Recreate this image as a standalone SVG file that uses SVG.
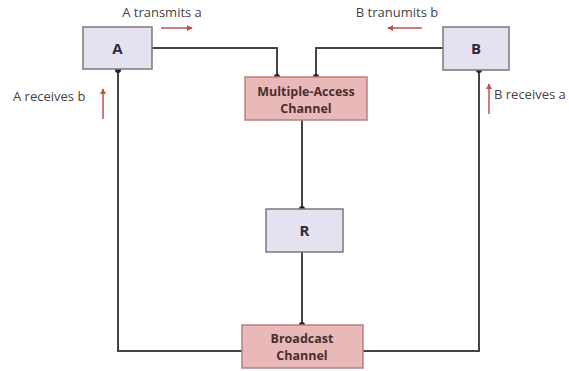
<svg xmlns="http://www.w3.org/2000/svg" width="569" height="371" viewBox="0 0 569 371">
<style>
.node{fill:#e4e2f0;stroke:#7a7a7a;stroke-width:1.5}
.ch{fill:#e9b8b8;stroke:#b88080;stroke-width:1.5}
.lbl{font-family:"Open Sans","Liberation Sans",sans-serif;font-weight:bold;fill:#2e2a3a;text-anchor:middle}
.chl{font-family:"Open Sans","Liberation Sans",sans-serif;font-weight:bold;fill:#4a2e2e;text-anchor:middle;font-size:12.5px}
.note{font-family:"Open Sans","Liberation Sans",sans-serif;font-size:13px;fill:#444}
.conn{fill:none;stroke:#444;stroke-width:2}
.red{fill:none;stroke:#c0504d;stroke-width:1.5}
</style>
<defs>
<marker id="dot" viewBox="0 0 6 6" refX="3" refY="3" markerWidth="3" markerHeight="3" markerUnits="strokeWidth"><circle cx="3" cy="3" r="3" fill="#222"/></marker>
<marker id="rh" viewBox="0 0 8 8" refX="7" refY="4" markerWidth="4" markerHeight="4" markerUnits="strokeWidth" orient="auto"><path d="M0,0 L8,4 L0,8 z" fill="#c0504d"/></marker>
</defs>
<g id="connectors">
<path class="conn" d="M152,48 H277 V77" marker-end="url(#dot)"/>
<path class="conn" d="M443,48 H316 V77" marker-end="url(#dot)"/>
<path class="conn" d="M302,120 V209" marker-end="url(#dot)"/>
<path class="conn" d="M302,252 V325" marker-end="url(#dot)"/>
<path class="conn" d="M242,351 H118 V70" marker-end="url(#dot)"/>
<path class="conn" d="M363,351 H479 V70" marker-end="url(#dot)"/>
</g>
<g id="annotations">
<text class="note" x="162" y="17" text-anchor="middle">A transmits a</text>
<path class="red" d="M161,28 H192" marker-end="url(#rh)"/>
<text class="note" x="13" y="101">A receives b</text>
<path class="red" d="M103,119 V89" marker-end="url(#rh)"/>
<text class="note" x="397" y="17" text-anchor="middle">B tranumits b</text>
<path class="red" d="M422,28 H388" marker-end="url(#rh)"/>
<text class="note" x="494" y="99">B receives a</text>
<path class="red" d="M489,114 V84" marker-end="url(#rh)"/>
</g>
<g id="A"><rect class="node" x="83" y="27" width="69" height="42"/><text class="lbl" x="117.5" y="54" font-size="15">A</text></g>
<g id="B"><rect class="node" x="443" y="27" width="66" height="43"/><text class="lbl" x="476" y="54" font-size="15">B</text></g>
<g id="MAC"><rect class="ch" x="245" y="77" width="122" height="43"/><text class="chl" x="306" y="96">Multiple-Access</text><text class="chl" x="306" y="113">Channel</text></g>
<g id="R"><rect class="node" x="266" y="209" width="77" height="43"/><text class="lbl" x="304.5" y="236" font-size="15">R</text></g>
<g id="BC"><rect class="ch" x="242" y="325" width="121" height="43"/><text class="chl" x="302" y="343">Broadcast</text><text class="chl" x="302" y="360">Channel</text></g>
</svg>
